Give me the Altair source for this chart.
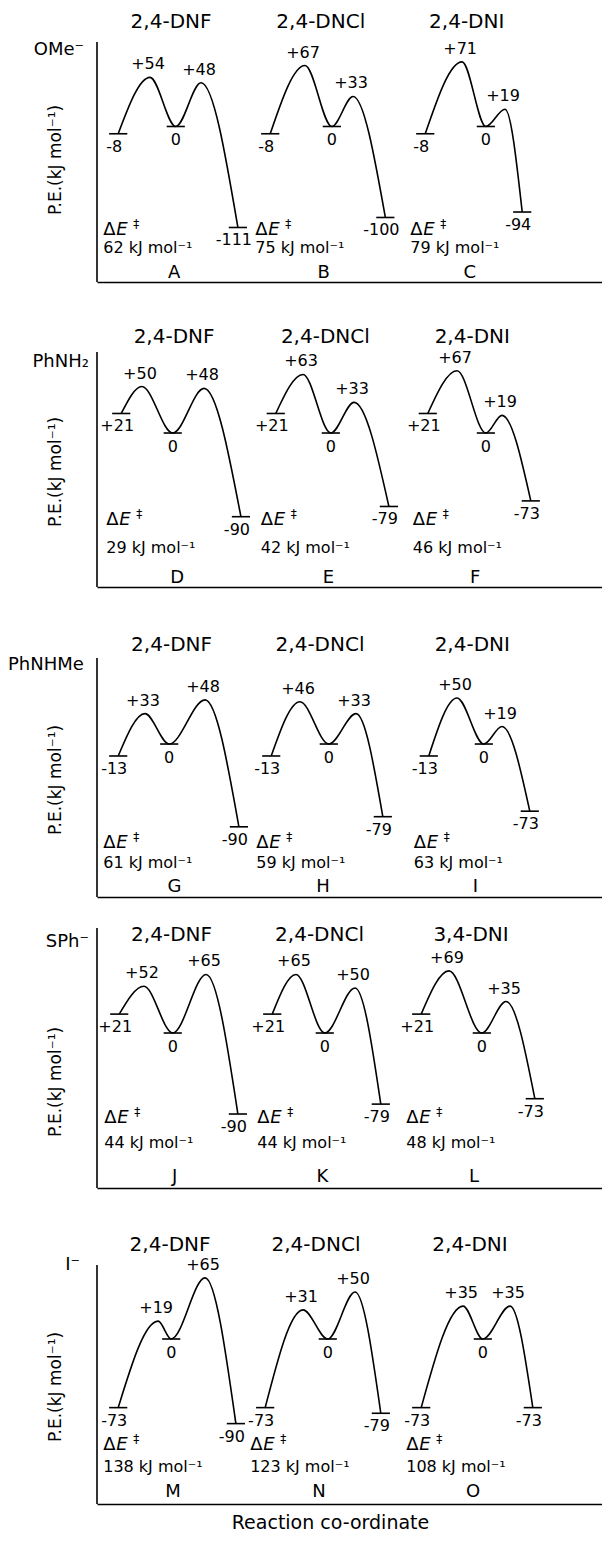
import altair as alt
import pandas as pd

# ---------------- data ----------------
nucleophiles = ["OMe⁻", "PhNH₂", "PhNHMe", "SPh⁻", "I⁻"]
substrates = [
    ["2,4-DNF", "2,4-DNCl", "2,4-DNI"],
    ["2,4-DNF", "2,4-DNCl", "2,4-DNI"],
    ["2,4-DNF", "2,4-DNCl", "2,4-DNI"],
    ["2,4-DNF", "2,4-DNCl", "3,4-DNI"],
    ["2,4-DNF", "2,4-DNCl", "2,4-DNI"],
]
letters = ["A", "B", "C", "D", "E", "F", "G", "H", "I", "J", "K", "L", "M", "N", "O"]

# potential energies (kJ/mol): reactants, TS1, intermediate, TS2, products
E_reactant = [-8, -8, -8, 21, 21, 21, -13, -13, -13, 21, 21, 21, -73, -73, -73]
E_ts1 = [54, 67, 71, 50, 63, 67, 33, 46, 50, 52, 65, 69, 19, 31, 35]
E_int = [0, 0, 0, 0, 0, 0, 0, 0, 0, 0, 0, 0, 0, 0, 0]
E_ts2 = [48, 33, 19, 48, 33, 19, 48, 33, 19, 65, 50, 35, 65, 50, 35]
E_product = [-111, -100, -94, -90, -79, -73, -90, -79, -73, -90, -79, -73, -90, -79, -73]
barrier = [62, 75, 79, 29, 42, 46, 61, 59, 63, 44, 44, 48, 138, 123, 108]

# reaction co-ordinate (arbitrary units, 0-100 along the axis)
rc_reactant = [4.2, 34.3, 65.0, 4.8, 35.4, 65.5, 4.2, 34.5, 65.7, 4.4, 34.7, 64.2, 4.2, 33.3, 64.2]
rc_ts1 = [10.5, 41.2, 72.3, 8.9, 40.8, 71.3, 9.5, 40.2, 71.3, 9.3, 39.4, 69.7, 12.1, 40.8, 72.5]
rc_int = [15.6, 46.5, 77.0, 15.0, 46.3, 77.0, 14.3, 45.9, 76.6, 15.0, 45.1, 76.2, 14.7, 45.7, 76.4]
rc_ts2 = [20.6, 50.7, 80.8, 21.2, 50.9, 80.2, 21.4, 51.3, 80.2, 21.6, 51.1, 81.0, 21.4, 51.1, 81.8]
rc_product = [27.9, 57.1, 84.2, 28.5, 57.8, 85.9, 28.1, 56.6, 85.7, 27.9, 56.2, 86.7, 27.5, 56.2, 86.3]

# ---------------- layout / style ----------------
FONT = "DejaVu Sans"
W = 505
PANEL_H = [274, 305, 310, 291, 316]
Y_DOMAIN = [(-170.9, 130.2), (-165.6, 162.4), (-166.3, 170.7), (-172.2, 151.1), (-175.5, 160.6)]
AXIS_TOP = [34, 70, 71, 31, 77]
TITLE_Y = [14, 55, 58, 38, 57]
NUC_Y = [42, 80, 78, 45, 77]
NUC_X = [(-13, "right"), (-8, "right"), (-89, "left"), (-8, "right"), (-17, "right")]
PE_Y = [152, 190, 193, 185, 199]
DE_Y = [222, 238, 256, 221, 257]
KJ_Y = [240, 266, 276, 246, 279]
LET_Y = [265, 296, 300, 280, 304]
BAR_HALF = 1.8
LW = 1.6


def fmt(v):
    return f"+{v}" if v > 0 else str(v)


def panel(p):
    idx = [3 * p + j for j in range(3)]
    H = PANEL_H[p]
    lo, hi = Y_DOMAIN[p]
    xs = alt.Scale(domain=[0, 100], nice=False, zero=False)
    ys = alt.Scale(domain=[lo, hi], nice=False, zero=False)

    curve_rows, bar_rows, peak_rows, int_rows, start_rows, end_rows, ann_rows = [], [], [], [], [], [], []
    for j, i in enumerate(idx):
        pts = [
            (rc_reactant[i], E_reactant[i]),
            (rc_ts1[i], E_ts1[i]),
            (rc_int[i], E_int[i]),
            (rc_ts2[i], E_ts2[i]),
            (rc_product[i], E_product[i]),
        ]
        for k, (x, e) in enumerate(pts):
            curve_rows.append({"profile": letters[i], "step": k, "rc": x, "E": e})
        for k in (0, 2, 4):
            x, e = pts[k]
            bar_rows.append({"x1": x - BAR_HALF, "x2": x + BAR_HALF, "E": e})
        for k in (1, 3):
            peak_rows.append({"rc": pts[k][0], "E": pts[k][1], "t": fmt(pts[k][1])})
        int_rows.append({"rc": pts[2][0], "E": pts[2][1], "t": fmt(pts[2][1])})
        start_rows.append({"rc": pts[0][0], "E": pts[0][1], "t": fmt(pts[0][1])})
        end_rows.append({"rc": pts[4][0], "E": pts[4][1], "t": fmt(pts[4][1])})
        mid = (rc_reactant[i] + rc_product[i]) / 2
        ann_rows.append({
            "mid": mid,
            "start": rc_reactant[i],
            "title": substrates[p][j],
            "letter": letters[i],
            "kj": f"{barrier[i]} kJ mol⁻¹",
        })

    curve_df = pd.DataFrame(curve_rows)
    bar_df = pd.DataFrame(bar_rows)
    ann_df = pd.DataFrame(ann_rows)

    last = p == 4
    xaxis = alt.Axis(
        domain=True, ticks=False, labels=False, grid=False,
        domainColor="black", domainWidth=LW,
        title="Reaction co-ordinate" if last else None,
        titleFont=FONT, titleFontSize=19, titleFontWeight="normal", titleColor="black",
        titleX=233, titleY=18, titleBaseline="middle", titleAlign="center",
    )

    curve = alt.Chart(curve_df).mark_line(
        interpolate="monotone", color="black", strokeWidth=LW
    ).encode(
        x=alt.X("rc:Q", scale=xs, axis=xaxis),
        y=alt.Y("E:Q", scale=ys, axis=None),
        detail="profile:N",
        order="step:O",
    )

    bars = alt.Chart(bar_df).mark_rule(color="black", strokeWidth=LW).encode(
        x=alt.X("x1:Q", scale=xs), x2="x2:Q", y=alt.Y("E:Q", scale=ys)
    )

    def txt(rows, dx=0, dy=0, size=16):
        return alt.Chart(pd.DataFrame(rows)).mark_text(
            font=FONT, fontSize=size, color="black", dx=dx, dy=dy, baseline="middle"
        ).encode(x=alt.X("rc:Q", scale=xs), y=alt.Y("E:Q", scale=ys), text="t:N")

    peaks = txt(peak_rows, dx=-2, dy=-13)
    ints = txt(int_rows, dx=0, dy=14)
    starts = txt(start_rows, dx=-4, dy=13)
    ends = txt(end_rows, dx=-4, dy=13)

    base = alt.Chart(ann_df)
    titles = base.mark_text(font=FONT, fontSize=20, color="black", dx=-7, baseline="middle").encode(
        x=alt.X("mid:Q", scale=xs), y=alt.value(TITLE_Y[p]), text="title:N"
    )
    letter_t = base.mark_text(font=FONT, fontSize=18, color="black", dx=-4, baseline="middle").encode(
        x=alt.X("mid:Q", scale=xs), y=alt.value(LET_Y[p]), text="letter:N"
    )
    kj = base.mark_text(font=FONT, fontSize=16, color="black", dx=-15, align="left", baseline="middle").encode(
        x=alt.X("start:Q", scale=xs), y=alt.value(KJ_Y[p]), text="kj:N"
    )
    de1 = base.mark_text(font=FONT, fontSize=18, color="black", dx=-15, align="left", baseline="middle", text="Δ").encode(
        x=alt.X("start:Q", scale=xs), y=alt.value(DE_Y[p])
    )
    de2 = base.mark_text(font=FONT, fontSize=18, fontStyle="italic", color="black", dx=-2, align="left", baseline="middle", text="E").encode(
        x=alt.X("start:Q", scale=xs), y=alt.value(DE_Y[p])
    )
    de3 = base.mark_text(font=FONT, fontSize=12, color="black", dx=15, dy=-6, align="left", baseline="middle", text="‡").encode(
        x=alt.X("start:Q", scale=xs), y=alt.value(DE_Y[p])
    )

    one = alt.Chart(pd.DataFrame({"nuc": [nucleophiles[p]], "pe": ["P.E.(kJ mol⁻¹)"]}))
    yline = one.mark_rule(color="black", strokeWidth=LW).encode(
        x=alt.value(0), y=alt.value(AXIS_TOP[p]), y2=alt.value(H)
    )
    nx, nalign = NUC_X[p]
    nuc = one.mark_text(font=FONT, fontSize=18, color="black", align=nalign, baseline="middle").encode(
        x=alt.value(nx), y=alt.value(NUC_Y[p]), text="nuc:N"
    )
    pe = one.mark_text(font=FONT, fontSize=17, color="black", angle=270, align="center", baseline="middle").encode(
        x=alt.value(-41), y=alt.value(PE_Y[p]), text="pe:N"
    )

    return alt.layer(
        curve, bars, peaks, ints, starts, ends, titles, letter_t, kj, de1, de2, de3, yline, nuc, pe
    ).properties(width=W, height=H)


chart = alt.vconcat(*[panel(p) for p in range(5)], spacing=0, bounds="flush").properties(
    padding=0, background="white"
).configure_view(stroke=None)

chart.save("out.html", embed_options={"renderer": "svg", "actions": False})
